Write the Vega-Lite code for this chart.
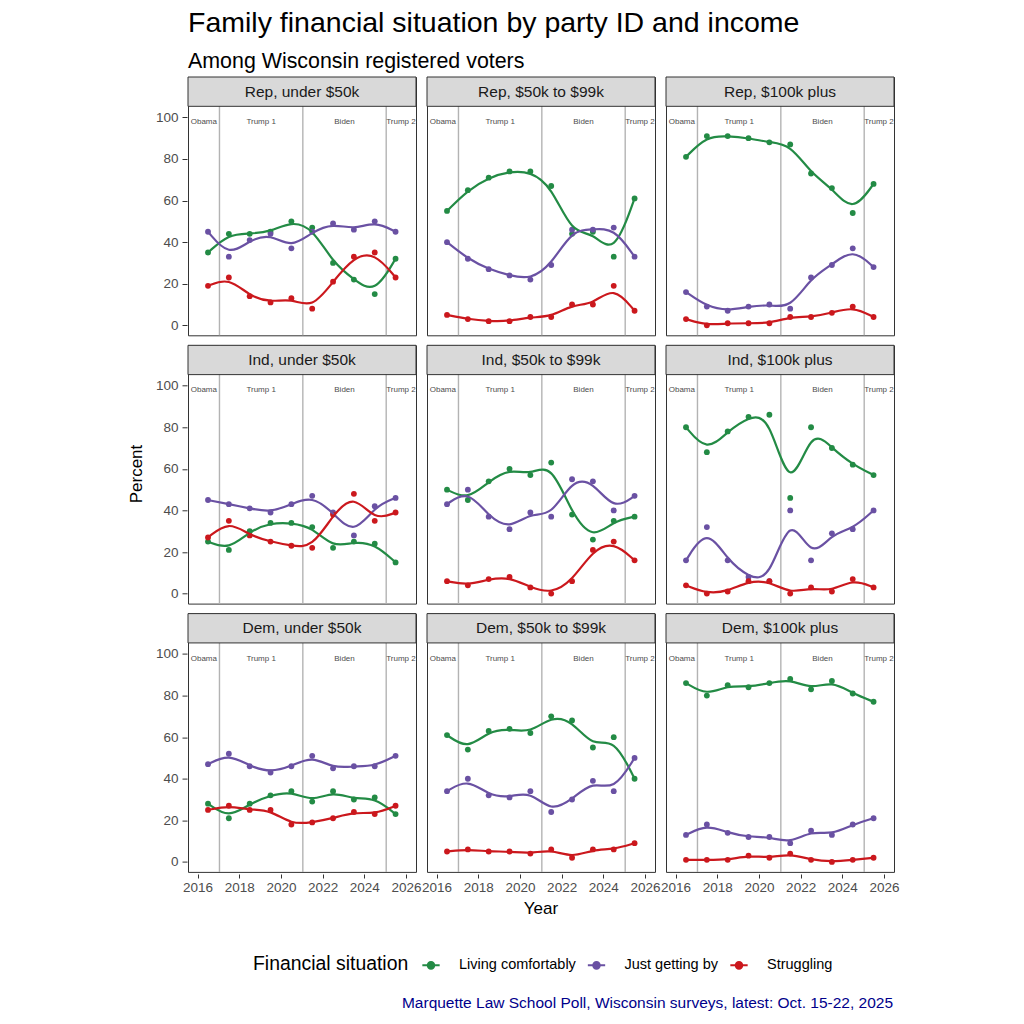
{
  "$schema": "https://vega.github.io/schema/vega-lite/v6.json",
  "padding": {"left": 127, "top": 8, "right": 5, "bottom": 5},
  "config": {
    "font": "Liberation Sans",
    "view": {"stroke": "#333333", "strokeWidth": 1},
    "axis": {
      "domain": false,
      "gridColor": "#EBEBEB",
      "labelFontSize": 13.5,
      "labelColor": "#4D4D4D",
      "tickColor": "#333333",
      "tickSize": 4,
      "labelPadding": 2,
      "labelOverlap": false,
      "title": null
    },
    "header": {
      "titleFontSize": 17,
      "titleFontWeight": "normal",
      "titleColor": "#000000"
    }
  },
  "title": {
    "text": "Marquette Law School Poll, Wisconsin surveys, latest: Oct. 15-22, 2025",
    "orient": "bottom",
    "anchor": "end",
    "frame": "bounds",
    "color": "#00008B",
    "fontSize": 15.5,
    "fontWeight": "normal",
    "offset": 22,
    "dx": -6
  },
  "datasets": {
    "d": [
      {"p":"Rep","i":"under $50k","g":"Rep, under $50k","t":2016.5,"Living comfortably":35,"Just getting by":45,"Struggling":19},
      {"p":"Rep","i":"under $50k","g":"Rep, under $50k","t":2017.5,"Living comfortably":44,"Just getting by":33,"Struggling":23},
      {"p":"Rep","i":"under $50k","g":"Rep, under $50k","t":2018.5,"Living comfortably":44,"Just getting by":41,"Struggling":14},
      {"p":"Rep","i":"under $50k","g":"Rep, under $50k","t":2019.5,"Living comfortably":45,"Just getting by":44,"Struggling":11},
      {"p":"Rep","i":"under $50k","g":"Rep, under $50k","t":2020.5,"Living comfortably":50,"Just getting by":37,"Struggling":13},
      {"p":"Rep","i":"under $50k","g":"Rep, under $50k","t":2021.5,"Living comfortably":47,"Just getting by":45,"Struggling":8},
      {"p":"Rep","i":"under $50k","g":"Rep, under $50k","t":2022.5,"Living comfortably":30,"Just getting by":49,"Struggling":21},
      {"p":"Rep","i":"under $50k","g":"Rep, under $50k","t":2023.5,"Living comfortably":22,"Just getting by":46,"Struggling":33},
      {"p":"Rep","i":"under $50k","g":"Rep, under $50k","t":2024.5,"Living comfortably":15,"Just getting by":50,"Struggling":35},
      {"p":"Rep","i":"under $50k","g":"Rep, under $50k","t":2025.5,"Living comfortably":32,"Just getting by":45,"Struggling":23},
      {"p":"Rep","i":"$50k to $99k","g":"Rep, $50k to $99k","t":2016.5,"Living comfortably":55,"Just getting by":40,"Struggling":5},
      {"p":"Rep","i":"$50k to $99k","g":"Rep, $50k to $99k","t":2017.5,"Living comfortably":65,"Just getting by":32,"Struggling":3},
      {"p":"Rep","i":"$50k to $99k","g":"Rep, $50k to $99k","t":2018.5,"Living comfortably":71,"Just getting by":27,"Struggling":2},
      {"p":"Rep","i":"$50k to $99k","g":"Rep, $50k to $99k","t":2019.5,"Living comfortably":74,"Just getting by":24,"Struggling":2},
      {"p":"Rep","i":"$50k to $99k","g":"Rep, $50k to $99k","t":2020.5,"Living comfortably":74,"Just getting by":22,"Struggling":4},
      {"p":"Rep","i":"$50k to $99k","g":"Rep, $50k to $99k","t":2021.5,"Living comfortably":67,"Just getting by":29,"Struggling":4},
      {"p":"Rep","i":"$50k to $99k","g":"Rep, $50k to $99k","t":2022.5,"Living comfortably":44,"Just getting by":46,"Struggling":10},
      {"p":"Rep","i":"$50k to $99k","g":"Rep, $50k to $99k","t":2023.5,"Living comfortably":45,"Just getting by":46,"Struggling":10},
      {"p":"Rep","i":"$50k to $99k","g":"Rep, $50k to $99k","t":2024.5,"Living comfortably":33,"Just getting by":47,"Struggling":19},
      {"p":"Rep","i":"$50k to $99k","g":"Rep, $50k to $99k","t":2025.5,"Living comfortably":61,"Just getting by":33,"Struggling":7},
      {"p":"Rep","i":"$100k plus","g":"Rep, $100k plus","t":2016.5,"Living comfortably":81,"Just getting by":16,"Struggling":3},
      {"p":"Rep","i":"$100k plus","g":"Rep, $100k plus","t":2017.5,"Living comfortably":91,"Just getting by":9,"Struggling":0},
      {"p":"Rep","i":"$100k plus","g":"Rep, $100k plus","t":2018.5,"Living comfortably":91,"Just getting by":7,"Struggling":1},
      {"p":"Rep","i":"$100k plus","g":"Rep, $100k plus","t":2019.5,"Living comfortably":90,"Just getting by":9,"Struggling":1},
      {"p":"Rep","i":"$100k plus","g":"Rep, $100k plus","t":2020.5,"Living comfortably":88,"Just getting by":10,"Struggling":1},
      {"p":"Rep","i":"$100k plus","g":"Rep, $100k plus","t":2021.5,"Living comfortably":87,"Just getting by":8,"Struggling":4},
      {"p":"Rep","i":"$100k plus","g":"Rep, $100k plus","t":2022.5,"Living comfortably":73,"Just getting by":23,"Struggling":4},
      {"p":"Rep","i":"$100k plus","g":"Rep, $100k plus","t":2023.5,"Living comfortably":66,"Just getting by":29,"Struggling":6},
      {"p":"Rep","i":"$100k plus","g":"Rep, $100k plus","t":2024.5,"Living comfortably":54,"Just getting by":37,"Struggling":9},
      {"p":"Rep","i":"$100k plus","g":"Rep, $100k plus","t":2025.5,"Living comfortably":68,"Just getting by":28,"Struggling":4},
      {"p":"Ind","i":"under $50k","g":"Ind, under $50k","t":2016.5,"Living comfortably":25,"Just getting by":45,"Struggling":27},
      {"p":"Ind","i":"under $50k","g":"Ind, under $50k","t":2017.5,"Living comfortably":21,"Just getting by":43,"Struggling":35},
      {"p":"Ind","i":"under $50k","g":"Ind, under $50k","t":2018.5,"Living comfortably":30,"Just getting by":41,"Struggling":28},
      {"p":"Ind","i":"under $50k","g":"Ind, under $50k","t":2019.5,"Living comfortably":34,"Just getting by":39,"Struggling":25},
      {"p":"Ind","i":"under $50k","g":"Ind, under $50k","t":2020.5,"Living comfortably":34,"Just getting by":43,"Struggling":23},
      {"p":"Ind","i":"under $50k","g":"Ind, under $50k","t":2021.5,"Living comfortably":32,"Just getting by":47,"Struggling":22},
      {"p":"Ind","i":"under $50k","g":"Ind, under $50k","t":2022.5,"Living comfortably":22,"Just getting by":39,"Struggling":38},
      {"p":"Ind","i":"under $50k","g":"Ind, under $50k","t":2023.5,"Living comfortably":25,"Just getting by":28,"Struggling":48},
      {"p":"Ind","i":"under $50k","g":"Ind, under $50k","t":2024.5,"Living comfortably":24,"Just getting by":42,"Struggling":35},
      {"p":"Ind","i":"under $50k","g":"Ind, under $50k","t":2025.5,"Living comfortably":15,"Just getting by":46,"Struggling":39},
      {"p":"Ind","i":"$50k to $99k","g":"Ind, $50k to $99k","t":2016.5,"Living comfortably":50,"Just getting by":43,"Struggling":6},
      {"p":"Ind","i":"$50k to $99k","g":"Ind, $50k to $99k","t":2017.5,"Living comfortably":45,"Just getting by":50,"Struggling":4},
      {"p":"Ind","i":"$50k to $99k","g":"Ind, $50k to $99k","t":2018.5,"Living comfortably":54,"Just getting by":37,"Struggling":7},
      {"p":"Ind","i":"$50k to $99k","g":"Ind, $50k to $99k","t":2019.5,"Living comfortably":60,"Just getting by":31,"Struggling":8},
      {"p":"Ind","i":"$50k to $99k","g":"Ind, $50k to $99k","t":2020.5,"Living comfortably":57,"Just getting by":39,"Struggling":3},
      {"p":"Ind","i":"$50k to $99k","g":"Ind, $50k to $99k","t":2021.5,"Living comfortably":63,"Just getting by":37,"Struggling":0},
      {"p":"Ind","i":"$50k to $99k","g":"Ind, $50k to $99k","t":2022.5,"Living comfortably":38,"Just getting by":55,"Struggling":6},
      {"p":"Ind","i":"$50k to $99k","g":"Ind, $50k to $99k","t":2023.5,"Living comfortably":26,"Just getting by":54,"Struggling":21},
      {"p":"Ind","i":"$50k to $99k","g":"Ind, $50k to $99k","t":2024.5,"Living comfortably":35,"Just getting by":40,"Struggling":25},
      {"p":"Ind","i":"$50k to $99k","g":"Ind, $50k to $99k","t":2025.5,"Living comfortably":37,"Just getting by":47,"Struggling":16},
      {"p":"Ind","i":"$100k plus","g":"Ind, $100k plus","t":2016.5,"Living comfortably":80,"Just getting by":16,"Struggling":4},
      {"p":"Ind","i":"$100k plus","g":"Ind, $100k plus","t":2017.5,"Living comfortably":68,"Just getting by":32,"Struggling":0},
      {"p":"Ind","i":"$100k plus","g":"Ind, $100k plus","t":2018.5,"Living comfortably":78,"Just getting by":16,"Struggling":1},
      {"p":"Ind","i":"$100k plus","g":"Ind, $100k plus","t":2019.5,"Living comfortably":85,"Just getting by":8,"Struggling":6},
      {"p":"Ind","i":"$100k plus","g":"Ind, $100k plus","t":2020.5,"Living comfortably":86,"Just getting by":6,"Struggling":6},
      {"p":"Ind","i":"$100k plus","g":"Ind, $100k plus","t":2021.5,"Living comfortably":46,"Just getting by":40,"Struggling":0},
      {"p":"Ind","i":"$100k plus","g":"Ind, $100k plus","t":2022.5,"Living comfortably":80,"Just getting by":16,"Struggling":3},
      {"p":"Ind","i":"$100k plus","g":"Ind, $100k plus","t":2023.5,"Living comfortably":70,"Just getting by":29,"Struggling":1},
      {"p":"Ind","i":"$100k plus","g":"Ind, $100k plus","t":2024.5,"Living comfortably":62,"Just getting by":31,"Struggling":7},
      {"p":"Ind","i":"$100k plus","g":"Ind, $100k plus","t":2025.5,"Living comfortably":57,"Just getting by":40,"Struggling":3},
      {"p":"Dem","i":"under $50k","g":"Dem, under $50k","t":2016.5,"Living comfortably":28,"Just getting by":47,"Struggling":25},
      {"p":"Dem","i":"under $50k","g":"Dem, under $50k","t":2017.5,"Living comfortably":21,"Just getting by":52,"Struggling":27},
      {"p":"Dem","i":"under $50k","g":"Dem, under $50k","t":2018.5,"Living comfortably":28,"Just getting by":46,"Struggling":25},
      {"p":"Dem","i":"under $50k","g":"Dem, under $50k","t":2019.5,"Living comfortably":32,"Just getting by":43,"Struggling":25},
      {"p":"Dem","i":"under $50k","g":"Dem, under $50k","t":2020.5,"Living comfortably":34,"Just getting by":46,"Struggling":18},
      {"p":"Dem","i":"under $50k","g":"Dem, under $50k","t":2021.5,"Living comfortably":29,"Just getting by":51,"Struggling":19},
      {"p":"Dem","i":"under $50k","g":"Dem, under $50k","t":2022.5,"Living comfortably":34,"Just getting by":45,"Struggling":21},
      {"p":"Dem","i":"under $50k","g":"Dem, under $50k","t":2023.5,"Living comfortably":30,"Just getting by":46,"Struggling":24},
      {"p":"Dem","i":"under $50k","g":"Dem, under $50k","t":2024.5,"Living comfortably":31,"Just getting by":46,"Struggling":23},
      {"p":"Dem","i":"under $50k","g":"Dem, under $50k","t":2025.5,"Living comfortably":23,"Just getting by":51,"Struggling":27},
      {"p":"Dem","i":"$50k to $99k","g":"Dem, $50k to $99k","t":2016.5,"Living comfortably":61,"Just getting by":34,"Struggling":5},
      {"p":"Dem","i":"$50k to $99k","g":"Dem, $50k to $99k","t":2017.5,"Living comfortably":54,"Just getting by":40,"Struggling":6},
      {"p":"Dem","i":"$50k to $99k","g":"Dem, $50k to $99k","t":2018.5,"Living comfortably":63,"Just getting by":32,"Struggling":5},
      {"p":"Dem","i":"$50k to $99k","g":"Dem, $50k to $99k","t":2019.5,"Living comfortably":64,"Just getting by":31,"Struggling":5},
      {"p":"Dem","i":"$50k to $99k","g":"Dem, $50k to $99k","t":2020.5,"Living comfortably":62,"Just getting by":34,"Struggling":4},
      {"p":"Dem","i":"$50k to $99k","g":"Dem, $50k to $99k","t":2021.5,"Living comfortably":70,"Just getting by":24,"Struggling":6},
      {"p":"Dem","i":"$50k to $99k","g":"Dem, $50k to $99k","t":2022.5,"Living comfortably":68,"Just getting by":30,"Struggling":2},
      {"p":"Dem","i":"$50k to $99k","g":"Dem, $50k to $99k","t":2023.5,"Living comfortably":55,"Just getting by":39,"Struggling":6},
      {"p":"Dem","i":"$50k to $99k","g":"Dem, $50k to $99k","t":2024.5,"Living comfortably":60,"Just getting by":34,"Struggling":6},
      {"p":"Dem","i":"$50k to $99k","g":"Dem, $50k to $99k","t":2025.5,"Living comfortably":40,"Just getting by":50,"Struggling":9},
      {"p":"Dem","i":"$100k plus","g":"Dem, $100k plus","t":2016.5,"Living comfortably":86,"Just getting by":13,"Struggling":1},
      {"p":"Dem","i":"$100k plus","g":"Dem, $100k plus","t":2017.5,"Living comfortably":80,"Just getting by":18,"Struggling":1},
      {"p":"Dem","i":"$100k plus","g":"Dem, $100k plus","t":2018.5,"Living comfortably":85,"Just getting by":14,"Struggling":1},
      {"p":"Dem","i":"$100k plus","g":"Dem, $100k plus","t":2019.5,"Living comfortably":84,"Just getting by":12,"Struggling":3},
      {"p":"Dem","i":"$100k plus","g":"Dem, $100k plus","t":2020.5,"Living comfortably":86,"Just getting by":12,"Struggling":2},
      {"p":"Dem","i":"$100k plus","g":"Dem, $100k plus","t":2021.5,"Living comfortably":88,"Just getting by":9,"Struggling":4},
      {"p":"Dem","i":"$100k plus","g":"Dem, $100k plus","t":2022.5,"Living comfortably":83,"Just getting by":15,"Struggling":1},
      {"p":"Dem","i":"$100k plus","g":"Dem, $100k plus","t":2023.5,"Living comfortably":87,"Just getting by":13,"Struggling":0},
      {"p":"Dem","i":"$100k plus","g":"Dem, $100k plus","t":2024.5,"Living comfortably":81,"Just getting by":18,"Struggling":1},
      {"p":"Dem","i":"$100k plus","g":"Dem, $100k plus","t":2025.5,"Living comfortably":77,"Just getting by":21,"Struggling":2}
    ]
  },
  "vconcat": [
    {
      "data": {"name": "d"},
      "transform": [
        {"fold": ["Living comfortably", "Just getting by", "Struggling"], "as": ["s", "v"]}
      ],
      "title": {
        "text": "Family financial situation by party ID and income",
        "subtitle": "Among Wisconsin registered voters",
        "anchor": "start",
        "frame": "group",
        "fontSize": 28.5,
        "fontWeight": "normal",
        "color": "#000000",
        "subtitleFontSize": 21.4,
        "subtitleColor": "#000000",
        "subtitlePadding": 14,
        "offset": 3
      },
      "facet": {
        "row": {"field": "p", "type": "nominal", "sort": ["Rep", "Ind", "Dem"], "header": {"labels": false, "title": "Percent", "titlePadding": -1}},
        "column": {"field": "i", "type": "nominal", "sort": ["under $50k", "$50k to $99k", "$100k plus"], "header": {"labels": false, "title": "Year", "titleOrient": "bottom", "labelOrient": "bottom", "titlePadding": -3}}
      },
      "spacing": {"row": 6.3, "column": 9},
      "spec": {
        "width": 228,
        "height": 258.3,
        "layer": [
          {
            "transform": [{"aggregate": [{"op": "count", "as": "n"}], "groupby": ["p", "i", "g"]}],
            "layer": [
              {"mark": {"type": "rule", "color": "#B3B3B3", "strokeWidth": 1.4}, "encoding": {"x": {"datum": 2017.05, "type": "quantitative",
                "scale": {"domain": [2015.54, 2026.48], "nice": false, "zero": false},
                "axis": {"values": [2016, 2017, 2018, 2019, 2020, 2021, 2022, 2023, 2024, 2025, 2026], "format": "d", "labelOverlap": false,
                  "labelExpr": "datum.value % 2 === 0 ? datum.label : ''",
                  "tickOpacity": {"condition": {"test": "datum.value % 2 !== 0", "value": 0}, "value": 1},
                  "gridWidth": {"condition": {"test": "datum.value % 2 !== 0", "value": 0.6}, "value": 1.1}}}}},
              {"mark": {"type": "rule", "color": "#B3B3B3", "strokeWidth": 1.4}, "encoding": {"x": {"datum": 2021.05, "type": "quantitative"}}},
              {"mark": {"type": "rule", "color": "#B3B3B3", "strokeWidth": 1.4}, "encoding": {"x": {"datum": 2025.05, "type": "quantitative"}}},
              {"mark": {"type": "text", "fontSize": 8, "fill": "#4D4D4D"}, "encoding": {"x": {"datum": 2016.3, "type": "quantitative"}, "y": {"datum": 97.8, "type": "quantitative",
                "scale": {"domain": [-4.8, 119.4], "nice": false, "zero": false},
                "axis": {"values": [0, 5, 10, 15, 20, 25, 30, 35, 40, 45, 50, 55, 60, 65, 70, 75, 80, 85, 90, 95, 100], "labelOverlap": false,
                  "tickSize": 5, "labelPadding": 4,
                  "labelExpr": "datum.value % 10 === 0 ? datum.label : ''",
                  "labelFontSize": {"condition": {"test": "datum.value % 10 !== 0", "value": 0.1}, "value": 13.5},
                  "tickOpacity": {"condition": {"test": "datum.value % 10 !== 0", "value": 0}, "value": 1},
                  "gridWidth": {"condition": {"test": "datum.value % 10 !== 0", "value": 0.6}, "value": 1.1}}}, "text": {"value": "Obama"}}},
              {"mark": {"type": "text", "fontSize": 8, "fill": "#4D4D4D"}, "encoding": {"x": {"datum": 2019.05, "type": "quantitative"}, "y": {"datum": 97.8, "type": "quantitative"}, "text": {"value": "Trump 1"}}},
              {"mark": {"type": "text", "fontSize": 8, "fill": "#4D4D4D"}, "encoding": {"x": {"datum": 2023.05, "type": "quantitative"}, "y": {"datum": 97.8, "type": "quantitative"}, "text": {"value": "Biden"}}},
              {"mark": {"type": "text", "fontSize": 8, "fill": "#4D4D4D"}, "encoding": {"x": {"datum": 2025.76, "type": "quantitative"}, "y": {"datum": 97.8, "type": "quantitative"}, "text": {"value": "Trump 2"}}},
              {"mark": {"type": "rect", "fill": "#D9D9D9", "stroke": "#333333", "strokeWidth": 1}, "encoding": {"x": {"datum": 2015.54, "type": "quantitative"}, "x2": {"datum": 2026.48}, "y": {"datum": 105.3, "type": "quantitative"}, "y2": {"datum": 119.4}}},
              {"mark": {"type": "text", "fontSize": 15.5, "fill": "#1A1A1A"}, "encoding": {"x": {"datum": 2021.01, "type": "quantitative"}, "y": {"datum": 112.35, "type": "quantitative"}, "text": {"field": "g"}}}
            ]
          },
          {
            "mark": {"type": "circle", "size": 34, "opacity": 1},
            "encoding": {
              "x": {"field": "t", "type": "quantitative",
                "scale": {"domain": [2015.54, 2026.48], "nice": false, "zero": false},
                "axis": {"values": [2016, 2017, 2018, 2019, 2020, 2021, 2022, 2023, 2024, 2025, 2026], "format": "d", "labelOverlap": false,
                  "labelExpr": "datum.value % 2 === 0 ? datum.label : ''",
                  "tickOpacity": {"condition": {"test": "datum.value % 2 !== 0", "value": 0}, "value": 1},
                  "gridWidth": {"condition": {"test": "datum.value % 2 !== 0", "value": 0.6}, "value": 1.1}}},
              "y": {"field": "v", "type": "quantitative",
                "scale": {"domain": [-4.8, 119.4], "nice": false, "zero": false},
                "axis": {"values": [0, 5, 10, 15, 20, 25, 30, 35, 40, 45, 50, 55, 60, 65, 70, 75, 80, 85, 90, 95, 100], "labelOverlap": false,
                  "tickSize": 5, "labelPadding": 4,
                  "labelExpr": "datum.value % 10 === 0 ? datum.label : ''",
                  "labelFontSize": {"condition": {"test": "datum.value % 10 !== 0", "value": 0.1}, "value": 13.5},
                  "tickOpacity": {"condition": {"test": "datum.value % 10 !== 0", "value": 0}, "value": 1},
                  "gridWidth": {"condition": {"test": "datum.value % 10 !== 0", "value": 0.6}, "value": 1.1}}},
              "color": {"field": "s", "type": "nominal",
                "scale": {"domain": ["Living comfortably", "Just getting by", "Struggling"], "range": ["#238B45", "#6A51A3", "#CB181D"]},
                "legend": {"title": "Financial situation",
                  "orient": "none", "legendX": 65, "legendY": 878,
                  "direction": "horizontal", "titleOrient": "left",
                  "titleFontSize": 19.4, "titleFontWeight": "normal", "titleColor": "#000000",
                  "labelFontSize": 14.5, "labelColor": "#000000", "columnPadding": 7.5, "titlePadding": 12, "labelOffset": 18,
                  "symbolType": "M-1,0H1M0.38,0A0.38,0.38,0,1,1,-0.38,0A0.38,0.38,0,1,1,0.38,0Z",
                  "symbolSize": 300, "symbolStrokeWidth": 2,
                  "encode": {"symbols": {"update": {"fill": {"scale": "color", "field": "value"}, "stroke": {"scale": "color", "field": "value"}, "strokeWidth": {"value": 2}, "opacity": {"value": 1}}}}}}
            }
          },
          {
            "mark": {"type": "line", "interpolate": "basis", "strokeWidth": 2.2},
            "encoding": {
              "x": {"field": "t", "type": "quantitative"},
              "y": {"field": "v", "type": "quantitative"},
              "color": {"field": "s", "type": "nominal"}
            }
          }
        ]
      }
    }
  ],
  "resolve": {"legend": {"color": "independent"}}
}
